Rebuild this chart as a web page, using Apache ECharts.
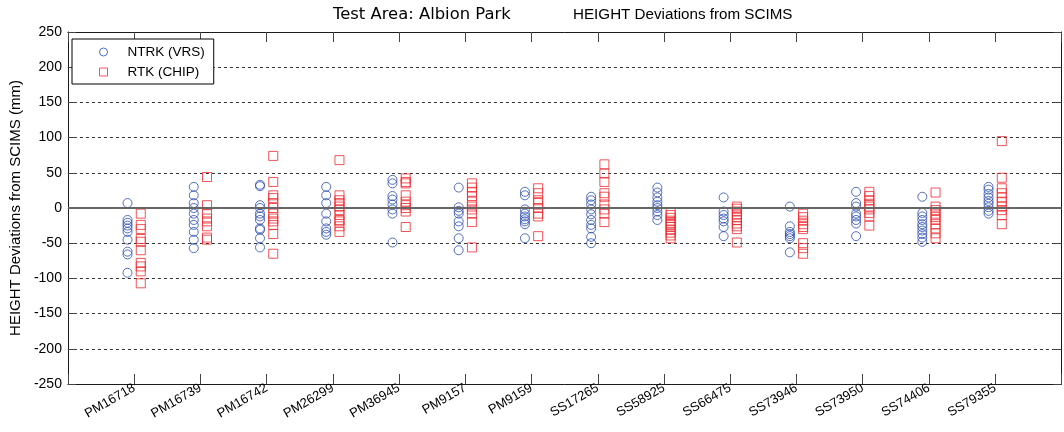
<!DOCTYPE html>
<html>
<head>
<meta charset="utf-8">
<script src="https://cdn.jsdelivr.net/npm/echarts@6/dist/echarts.min.js"></script>
<style>html,body{margin:0;padding:0;background:#fff;}#c{width:1064px;height:432px;}</style>
</head>
<body>
<div id="c"></div>
<script>
const categories = ['PM16718','PM16739','PM16742','PM26299','PM36945','PM9157','PM9159','SS17265','SS58925','SS66475','SS73946','SS73950','SS74406','SS79355'];
const yTicks = [-250,-200,-150,-100,-50,0,50,100,150,200,250];

const ntrkVRS = [
  [7, -17, -21, -25, -29, -34, -45, -62, -66, -92],
  [30, 18, 7, 0, -8, -17, -24, -34, -45, -57],
  [33, 31, 4, 0, -8, -12, -17, -29, -31, -43, -56],
  [30, 18, 7, -8, -19, -29, -34, -38],
  [40, 35, 17, 12, 5, -2, -8, -49],
  [29, 1, -4, -8, -19, -26, -43, -60],
  [23, 18, -2, -8, -12, -16, -19, -23, -43],
  [16, 11, 5, -2, -9, -17, -24, -29, -41, -50],
  [29, 22, 15, 9, 4, 0, -5, -10, -17],
  [15, -5, -10, -15, -19, -27, -40],
  [2, -26, -34, -37, -40, -43, -63],
  [23, 7, 2, -8, -12, -17, -22, -40],
  [16, -7, -12, -17, -23, -27, -32, -37, -42, -48],
  [30, 26, 20, 15, 10, 6, 1, -4, -8]
];

const rtkCHIP = [
  [-8, -24, -30, -44, -48, -60, -78, -83, -90, -107],
  [44, 4, -8, -15, -19, -26, -42, -45],
  [74, 37, 18, 14, 7, 0, -8, -15, -19, -24, -37, -65],
  [68, 18, 11, 7, 2, -3, -10, -17, -19, -26, -34],
  [42, 37, 35, 18, 9, 4, 0, -5, -27],
  [35, 29, 23, 17, 9, 2, -2, -8, -20, -56],
  [28, 21, 11, 7, 0, -8, -12, -40],
  [62, 49, 37, 21, 16, 5, -2, -8, -20],
  [-7, -10, -14, -18, -21, -24, -27, -31, -35, -39, -43],
  [2, -1, -5, -9, -13, -17, -22, -26, -30, -49],
  [-8, -13, -18, -23, -27, -30, -50, -57, -65],
  [23, 17, 11, 6, 2, -2, -7, -12, -25],
  [22, 2, -3, -8, -13, -17, -23, -29, -36, -43],
  [95, 43, 28, 21, 15, 9, 2, -3, -10, -23]
];

function toPoints(groups, offset) {
  const out = [];
  groups.forEach((vals, i) => vals.forEach(v => out.push([i + 1 + offset, v])));
  return out;
}

const FONT = '"Liberation Sans", Arial, sans-serif';
const SQUARE = 'path://M0,0L10,0L10,10L0,10Z';
const chart = echarts.init(document.getElementById('c'), null, {renderer: 'canvas'});
chart.setOption({
  animation: false,
  backgroundColor: '#fff',
  title: {
    text: '{a|Test Area: Albion Park}{b|HEIGHT Deviations from SCIMS}',
    left: 333, top: 7, padding: 0,
    textStyle: {
      fontWeight: 'normal',
      rich: {
        a: {fontFamily: '"DejaVu Sans", sans-serif', fontSize: 16.4, fontWeight: 'normal', color: '#000', width: 240, lineHeight: 16},
        b: {fontFamily: FONT, fontSize: 15.2, fontWeight: 'normal', color: '#000', lineHeight: 16}
      }
    }
  },
  legend: {
    orient: 'vertical',
    left: 72, top: 39,
    padding: [6, 9, 5, 27],
    itemWidth: 8, itemHeight: 8, itemGap: 6,
    borderColor: '#000', borderWidth: 1,
    backgroundColor: '#fff',
    itemStyle: {borderWidth: 1},
    textStyle: {fontFamily: FONT, fontSize: 13.5, color: '#000', lineHeight: 14, width: 77, padding: [0, 0, 0, 15]},
    data: ['NTRK (VRS)', 'RTK (CHIP)']
  },
  grid: {left: 63, top: 32, width: 1004, height: 352, containLabel: false},
  xAxis: [{
    type: 'value', min: 0, max: 15, interval: 1,
    axisLine: {show: true, onZero: false, lineStyle: {color: '#1a1a1a', width: 1}},
    axisTick: {inside: true, length: 10, lineStyle: {color: '#444'}},
    axisLabel: {
      rotate: 30, margin: 3, fontFamily: FONT, fontSize: 13, color: '#000',
      formatter: v => (v >= 1 && v <= categories.length) ? categories[v - 1] : ''
    },
    splitLine: {show: false}
  }, {
    type: 'value', min: 0, max: 15, interval: 1, position: 'top',
    axisLine: {show: true, onZero: false, lineStyle: {color: '#1a1a1a', width: 1}},
    axisTick: {inside: true, length: 10, lineStyle: {color: '#444'}},
    axisLabel: {show: false},
    splitLine: {show: false}
  }],
  yAxis: [{
    type: 'value', min: yTicks[0], max: yTicks[yTicks.length - 1], interval: 50,
    name: 'HEIGHT Deviations from SCIMS (mm)',
    nameLocation: 'middle', nameGap: 35, nameRotate: 90,
    nameTextStyle: {fontFamily: FONT, fontSize: 15, color: '#000'},
    axisLine: {show: true, onZero: false, lineStyle: {color: '#1a1a1a', width: 1}},
    axisTick: {inside: true, length: 8, lineStyle: {color: '#444'}},
    axisLabel: {margin: 6, fontFamily: FONT, fontSize: 14, color: '#000'},
    splitLine: {show: true, lineStyle: {type: [3, 3], color: '#333', width: 1}}
  }, {
    type: 'value', min: yTicks[0], max: yTicks[yTicks.length - 1], interval: 50, position: 'right',
    axisLine: {show: true, onZero: false, lineStyle: {color: '#1a1a1a', width: 1}},
    axisTick: {inside: true, length: 8, lineStyle: {color: '#444'}},
    axisLabel: {show: false},
    splitLine: {show: false}
  }],
  series: [{
    name: 'NTRK (VRS)', type: 'scatter', symbol: 'circle', symbolSize: 9,
    itemStyle: {color: 'rgba(255,255,255,0)', borderColor: '#2a4cb0', borderWidth: 1},
    emphasis: {disabled: true},
    data: toPoints(ntrkVRS, -0.1),
    markLine: {
      silent: true, symbol: 'none', label: {show: false},
      lineStyle: {type: 'solid', color: '#666', width: 2},
      data: [{yAxis: 0}]
    },
    z: 3
  }, {
    name: 'RTK (CHIP)', type: 'scatter', symbol: SQUARE, symbolSize: 9, symbolKeepAspect: true,
    itemStyle: {color: 'rgba(255,255,255,0)', borderColor: '#f0282e', borderWidth: 1},
    emphasis: {disabled: true},
    data: toPoints(rtkCHIP, 0.1),
    z: 3
  }]
});
</script>
</body>
</html>
